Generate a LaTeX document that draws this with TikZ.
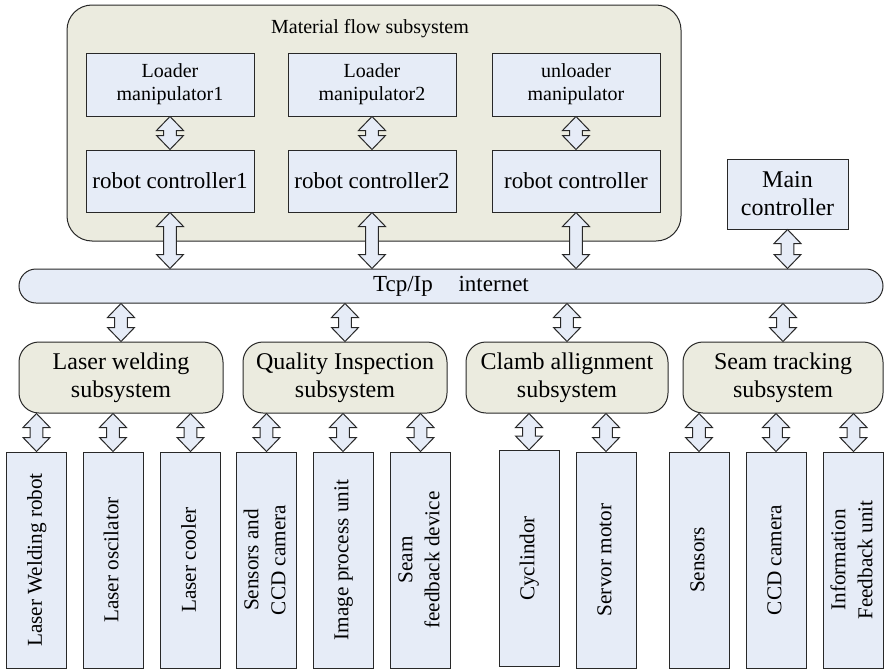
\documentclass[tikz,border=0pt]{standalone}
\usepackage{fontspec}
\setmainfont{Liberation Serif}
\usetikzlibrary{calc}

\definecolor{boxblue}{RGB}{230,236,247}
\definecolor{subbeige}{RGB}{235,235,223}
\definecolor{linegray}{RGB}{40,40,40}

\tikzset{
    box/.style={draw=linegray, fill=boxblue, line width=0.5pt, inner sep=1pt, align=center},
    subbox/.style={box, fill=subbeige, rounded corners=10pt, minimum width=102pt, minimum height=35.5pt, font=\fontsize{12}{14}\selectfont},
    leafbox/.style={box, minimum width=30pt, minimum height=108pt, font=\fontsize{10.6}{13.5}\selectfont},
    blockarrow/.style={fill=boxblue, draw=linegray, line width=0.5pt, line join=miter}
}

\newcommand{\dblarr}[2]{%
    \filldraw[blockarrow] let \p1=#1, \p2=#2 in
        (\x1,\y1) -- ({\x1+6.75pt},{\y1-7pt}) -- ({\x1+3.2pt},{\y1-7pt})
        -- ({\x1+3.2pt},{\y2+7pt}) -- ({\x1+6.75pt},{\y2+7pt}) -- (\x1,\y2)
        -- ({\x1-6.75pt},{\y2+7pt}) -- ({\x1-3.2pt},{\y2+7pt})
        -- ({\x1-3.2pt},{\y1-7pt}) -- ({\x1-6.75pt},{\y1-7pt}) -- cycle;
}

\newcommand{\vtext}[1]{\rotatebox{90}{\begin{tabular}{@{}c@{}}#1\end{tabular}}}

\begin{document}
\begin{tikzpicture}[x=0.5pt, y=-0.5pt]
        \useasboundingbox (0,0) rectangle (884,669);

        \node[box, fill=subbeige, rounded corners=12.5pt, minimum width=307pt, minimum height=118pt] (matflow) at (374,123) {};
        \node[font=\fontsize{10}{12}\selectfont] (mattitle) at (370,29) {Material flow subsystem};

        \node[box, minimum width=84pt, minimum height=31.5pt, font=\fontsize{10}{11.5}\selectfont] (lm1) at (170,84.5) {Loader\\manipulator1};
        \node[box, minimum width=84pt, minimum height=31.5pt, font=\fontsize{10}{11.5}\selectfont] (lm2) at (372,84.5) {Loader\\manipulator2};
        \node[box, minimum width=84pt, minimum height=31.5pt, font=\fontsize{10}{11.5}\selectfont] (ulm) at (576,84.5) {unloader\\manipulator};

        \node[box, minimum width=84pt, minimum height=31pt, font=\fontsize{11.5}{13}\selectfont] (rc1) at (170,181) {robot controller1};
        \node[box, minimum width=84pt, minimum height=31pt, font=\fontsize{11.5}{13}\selectfont] (rc2) at (372,181) {robot controller2};
        \node[box, minimum width=84pt, minimum height=31pt, font=\fontsize{11.5}{13}\selectfont] (rc3) at (576,181) {robot controller};

        \node[box, minimum width=60.5pt, minimum height=35pt, font=\fontsize{12}{14}\selectfont] (mainctrl) at (787.5,194) {Main\\controller};

        \node[box, rounded corners=8.5pt, minimum width=432pt, minimum height=17pt, font=\fontsize{11.5}{13}\selectfont] (bus) at (451,286) {Tcp/Ip\hspace{10pt} internet};

        \node[subbox] (weld) at (121,377.5) {Laser welding\\subsystem};
        \node[subbox] (quality) at (345,377.5) {Quality Inspection\\subsystem};
        \node[subbox, minimum width=101pt] (clamb) at (567,377.5) {Clamb allignment\\subsystem};
        \node[subbox, minimum width=100pt] (seam) at (783,377.5) {Seam tracking\\subsystem};

        \node[leafbox] (weldrobot) at (36.5,560) {\vtext{Laser Welding robot}};
        \node[leafbox] (oscil) at (113,560) {\vtext{Laser oscilator}};
        \node[leafbox] (cooler) at (190.5,560) {\vtext{Laser cooler}};
        \node[leafbox] (sensccd) at (266.5,560) {\vtext{Sensors and\\CCD camera}};
        \node[leafbox] (imgproc) at (343,560) {\vtext{Image process unit}};
        \node[leafbox] (seamfb) at (420.5,560) {\vtext{Seam\\feedback device}};
        \node[leafbox] (cylind) at (529,558.5) {\vtext{Cyclindor}};
        \node[leafbox] (servo) at (606,560) {\vtext{Servor motor}};
        \node[leafbox] (sensors) at (699,560) {\vtext{Sensors}};
        \node[leafbox] (ccdcam) at (776,560) {\vtext{CCD camera}};
        \node[leafbox] (infofb) at (853.5,560) {\vtext{Information\\Feedback unit}};

        \dblarr{(lm1.south)}{(rc1.north)}
        \dblarr{(lm2.south)}{(rc2.north)}
        \dblarr{(ulm.south)}{(rc3.north)}

        \dblarr{(rc1.south)}{(rc1.south |- bus.north)}
        \dblarr{(rc2.south)}{(rc2.south |- bus.north)}
        \dblarr{(rc3.south)}{(rc3.south |- bus.north)}
        \dblarr{(mainctrl.south)}{(mainctrl.south |- bus.north)}

        \dblarr{(bus.south -| weld)}{(weld.north)}
        \dblarr{(bus.south -| quality)}{(quality.north)}
        \dblarr{(bus.south -| clamb)}{(clamb.north)}
        \dblarr{(bus.south -| seam)}{(seam.north)}

        \dblarr{(weld.south -| weldrobot)}{(weldrobot.north)}
        \dblarr{(weld.south -| oscil)}{(oscil.north)}
        \dblarr{(weld.south -| cooler)}{(cooler.north)}
        \dblarr{(quality.south -| sensccd)}{(sensccd.north)}
        \dblarr{(quality.south -| imgproc)}{(imgproc.north)}
        \dblarr{(quality.south -| seamfb)}{(seamfb.north)}
        \dblarr{(clamb.south -| cylind)}{(cylind.north)}
        \dblarr{(clamb.south -| servo)}{(servo.north)}
        \dblarr{(seam.south -| sensors)}{(sensors.north)}
        \dblarr{(seam.south -| ccdcam)}{(ccdcam.north)}
        \dblarr{(seam.south -| infofb)}{(infofb.north)}
    \end{tikzpicture}
\end{document}
